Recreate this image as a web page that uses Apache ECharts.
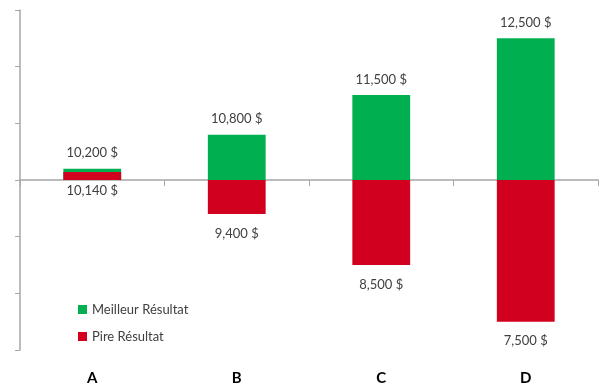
<!DOCTYPE html>
<html><head><meta charset="utf-8">
<script src="https://cdn.jsdelivr.net/npm/echarts@6/dist/echarts.min.js"></script>
<style>html,body{margin:0;padding:0;background:#fff}#c{width:602px;height:388px}</style>
</head><body><div id="c"></div>
<script>
const categories = ['A', 'B', 'C', 'D'];
const bestValues = [10200, 10800, 11500, 12500];
const worstValues = [10140, 9400, 8500, 7500];
const baseValue = 10000;
const seriesNames = ['Meilleur Résultat', 'Pire Résultat'];

const fmt = v => v.toLocaleString('en-US') + ' $';
const chart = echarts.init(document.getElementById('c'));
const labelStyle = { fontFamily: 'Lato', fontSize: 13, color: '#404040' };
chart.setOption({
  animation: false,
  grid: { left: 20, right: 4, top: 10, bottom: 38 },
  legend: {
    orient: 'vertical', left: 73, top: 298, itemWidth: 9, itemHeight: 9, itemGap: 14,
    icon: 'rect',
    textStyle: { fontFamily: 'Lato', fontSize: 13, color: '#404040' },
    data: seriesNames
  },
  xAxis: [{
    type: 'category', data: categories,
    axisLine: { onZero: true, lineStyle: { color: '#a6a6a6', width: 1.5 } },
    axisTick: { show: true, length: 6, lineStyle: { color: '#a6a6a6' } },
    axisLabel: { show: false }
  }, {
    type: 'category', data: categories, position: 'bottom',
    axisLine: { show: false, onZero: false }, axisTick: { show: false },
    axisLabel: { margin: 21, fontFamily: 'Lato', fontWeight: 'bold', fontSize: 15, color: '#000' }
  }],
  yAxis: {
    type: 'value', min: -3000, max: 3000, interval: 1000,
    axisLine: { show: true, lineStyle: { color: '#a6a6a6', width: 1.5 } },
    axisTick: { show: true, length: 5, lineStyle: { color: '#a6a6a6' } },
    axisLabel: { show: false }, splitLine: { show: false }
  },
  series: [{
    name: seriesNames[0], type: 'bar', xAxisIndex: 0, barWidth: '40%', barGap: '-100%',
    itemStyle: { color: '#00b050' },
    data: bestValues.map(v => v - baseValue),
    label: { show: true, position: 'top', distance: 9, ...labelStyle,
      formatter: p => fmt(bestValues[p.dataIndex]) }
  }, {
    name: seriesNames[1], type: 'bar', xAxisIndex: 0, barWidth: '40%', barGap: '-100%',
    itemStyle: { color: '#d2001f' },
    data: worstValues.map(v => ({
      value: v - baseValue,
      label: { distance: v >= baseValue ? 4 : 13 }
    })),
    label: { show: true, position: 'bottom', ...labelStyle,
      formatter: p => fmt(worstValues[p.dataIndex]) }
  }]
});
</script></body></html>
